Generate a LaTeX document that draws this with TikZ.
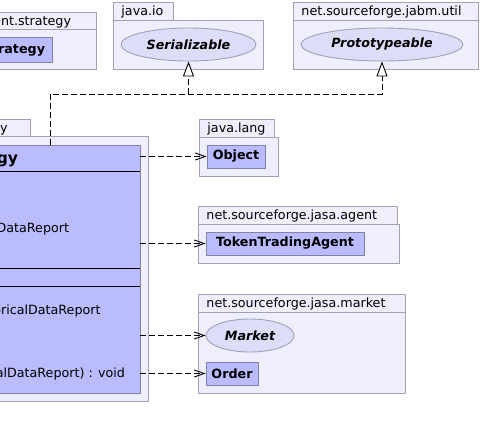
\documentclass[tikz,border=0pt]{standalone}
\usepackage{fontspec}
\setmainfont{DejaVu Sans}
\usepackage{xcolor}
\usepackage{tikz}
\usetikzlibrary{arrows.meta,shapes.geometric}

\definecolor{pkgfill}{RGB}{238,238,252}
\definecolor{pkgline}{RGB}{160,160,184}
\definecolor{clsfill}{RGB}{187,187,255}
\definecolor{clsline}{RGB}{130,130,165}
\definecolor{ifcfill}{RGB}{221,221,250}

\begin{document}
\begin{tikzpicture}[x=1pt,y=-1pt,line width=0.9pt,
        every node/.style={inner sep=0pt,font=\fontsize{12.7}{15}\selectfont},
        pkg/.style={draw=pkgline,fill=pkgfill},
        cls/.style={draw=clsline,fill=clsfill,minimum height=23pt,font=\fontsize{12.7}{15}\selectfont\bfseries},
        ifc/.style={ellipse,draw=pkgline,fill=ifcfill,minimum height=33pt,font=\fontsize{12.7}{15}\selectfont\bfseries\itshape},
        dep/.style={dash pattern=on 6pt off 3pt,-{Straight Barb[length=10pt,width=7pt]}},
        real/.style={dash pattern=on 6pt off 3pt,-{Triangle[open,length=15pt,width=11pt,fill=white]}}]
        \useasboundingbox (0,0) rectangle (481,439);

        \foreach \px/\py/\tx/\qx/\qy/\lbl in {113/2/173/263/69/java.io, 293/2/478/478/69/net.sourceforge.jabm.util, 199/119/274/278/176/java.lang, 198/206/397/399/263/net.sourceforge.jasa.agent, 198/294/405/405/393/net.sourceforge.jasa.market}
        {
        \draw[pkg] (\px,\py) rectangle (\tx,\py+18);
        \draw[pkg] (\px,\py+18) rectangle (\qx,\qy);
        \node[anchor=base west] at (\px+8,\py+13.5) {\lbl};
        }

        \draw[pkg] (-5,12) rectangle (96,29);
        \draw[pkg] (-5,29) rectangle (96,69);
        \node[anchor=base east] at (71.5,25.5) {ent.strategy};
        \draw[pkg] (-5,119) rectangle (30,136);
        \draw[pkg] (-5,136) rectangle (148,401);
        \node[anchor=base east] at (8,132.5) {y};

        \node[cls,minimum width=57pt,minimum height=25pt] (strat) at (23.5,49.5) {};
        \node[anchor=base east,font=\fontsize{12.7}{15}\selectfont\bfseries] at (45.5,53.5) {rategy};

        \node[cls,minimum width=145pt,minimum height=248pt] (cls) at (67.5,269) {};
        \draw[line width=0.8pt] (cls.west |- 0,171) -- (cls.east |- 0,171);
        \draw[line width=0.8pt] (cls.west |- 0,268) -- (cls.east |- 0,268);
        \draw[line width=0.8pt] (cls.west |- 0,286) -- (cls.east |- 0,286);
        \node[anchor=base east,font=\fontsize{15.5}{18}\selectfont\bfseries] at (18.5,163) {gy};
        \node[anchor=base east] at (69.5,232.5) {DataReport};
        \node[anchor=base east] at (101,314.5) {oricalDataReport};
        \node[anchor=base east] at (125.5,377.5) {alDataReport) : void};

        \node[ifc,minimum width=135pt] (ser) at (188.5,44.5) {Serializable};
        \node[ifc,minimum width=162pt] (proto) at (382,44.5) {Prototypeable};
        \node[ifc,minimum width=88pt] (market) at (250,335.5) {Market};
        \node[cls,minimum width=58pt] (obj) at (236,156.5) {Object};
        \node[cls,minimum width=158pt] (tta) at (285,243.5) {TokenTradingAgent};
        \node[cls,minimum width=52pt] (order) at (232,373.5) {Order};

        \foreach \t in {obj,tta,market,order}
        \draw[dep] (cls.east |- \t.west) -- (\t.west);

        \coordinate (knee) at (50,94);
        \draw[real] (cls.north -| knee) -- (knee) -| (ser.south);
        \draw[real] (cls.north -| knee) -- (knee) -| (proto.south);
    \end{tikzpicture}
\end{document}
